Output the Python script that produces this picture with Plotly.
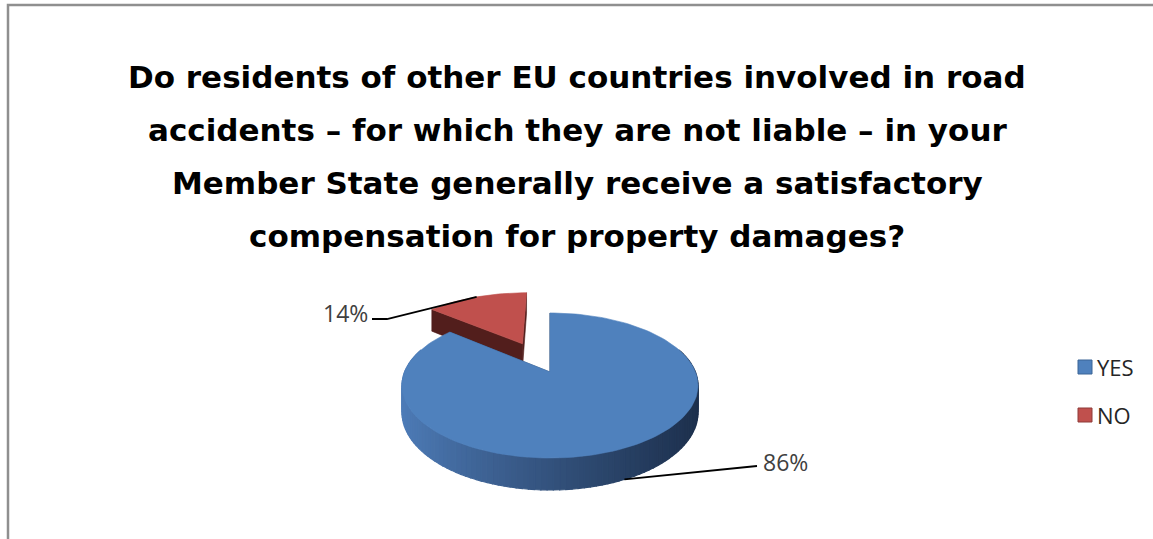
import numpy as np
import plotly.graph_objects as go

# Survey answers
categories = ["YES", "NO"]
shares = [86, 14]
slice_labels = ["86%", "14%"]
title_lines = [
    "Do residents of other EU countries involved in road",
    "accidents \u2013 for which they are not liable \u2013 in your",
    "Member State generally receive a satisfactory",
    "compensation for property damages?",
]

# Styling
top_colors = {"YES": "#4F81BD", "NO": "#C0504D"}
edge_colors = {"YES": "#3A6496", "NO": "#8E3A38"}
face_colors = {"YES": "#2B466A", "NO": "#521E1C"}
side_light = np.array([0x4E, 0x7C, 0xB8])
side_dark = np.array([0x1D, 0x30, 0x4D])
W, H = 1153, 539
FONT = "Open Sans"
TITLE_FONT = "DejaVu Sans"

# 3D pie projection (pixel space of the figure)
CX, CY = 550.0, 372.0   # projected centre of the pie
RX, RY = 145.4, 70.0    # disk radii on screen
PERSP = 0.186           # perspective strength (back is smaller)
DEPTH = 26.0            # thickness of the pie
EXPLODE = {"YES": 0.0, "NO": 0.48}


def project(X, Y, Z=0.0):
    w = 1.0 + PERSP * Y
    return CX + RX * X / w, CY - RY * Y / w - DEPTH * Z / w


def rgb(c):
    return "rgb(%d,%d,%d)" % tuple(int(round(v)) for v in c)


fig = go.Figure()

# angular extents of each slice, clockwise from 12 o'clock
total = float(sum(shares))
bounds = np.concatenate([[0.0], np.cumsum(shares) / total * 2 * np.pi])
slices = []
for i, cat in enumerate(categories):
    a0, a1 = bounds[i], bounds[i + 1]
    mid = 0.5 * (a0 + a1)
    e = EXPLODE[cat]
    ox, oy = e * np.sin(mid), e * np.cos(mid)
    slices.append(dict(cat=cat, a0=a0, a1=a1, mid=mid, ox=ox, oy=oy))


def add_poly(xs, ys, color, lw=0.6):
    fig.add_trace(go.Scatter(
        x=list(xs) + [xs[0]], y=list(ys) + [ys[0]], mode="lines", fill="toself",
        fillcolor=color, line=dict(color=color, width=lw),
        hoverinfo="skip", showlegend=False))


def draw_slice(s):
    cat, a0, a1, ox, oy = s["cat"], s["a0"], s["a1"], s["ox"], s["oy"]
    # radial cut faces
    for a in (a0, a1):
        px = [ox, ox + np.sin(a), ox + np.sin(a), ox]
        py = [oy, oy + np.cos(a), oy + np.cos(a), oy]
        pz = [0, 0, -1, -1]
        xs, ys = project(np.array(px), np.array(py), np.array(pz))
        add_poly(xs, ys, face_colors[cat])
    # outer curved side, shaded left-to-right
    n = max(8, int((a1 - a0) / (2 * np.pi) * 180))
    t = np.linspace(a0, a1, n + 1)
    xt, yt = project(ox + np.sin(t), oy + np.cos(t), 0.0)
    xb, yb = project(ox + np.sin(t), oy + np.cos(t), -1.0)
    xmin, xmax = CX - RX * 1.02, CX + RX * 1.02
    for j in range(n):
        if np.cos(0.5 * (t[j] + t[j + 1])) > 0.35:
            continue  # back part, hidden under the top
        f = np.clip((0.5 * (xt[j] + xt[j + 1]) - xmin) / (xmax - xmin), 0, 1) ** 0.85
        base = side_light + (side_dark - side_light) * f
        if cat == "NO":
            base = np.array([0x8A, 0x32, 0x30]) * (1 - 0.5 * f)
        add_poly([xt[j], xt[j + 1], xb[j + 1], xb[j]],
                 [yt[j], yt[j + 1], yb[j + 1], yb[j]], rgb(base), lw=1.2)
    # top surface
    px = np.concatenate([[ox], ox + np.sin(t)])
    py = np.concatenate([[oy], oy + np.cos(t)])
    xs, ys = project(px, py, 0.0)
    add_poly(xs, ys, top_colors[cat])


# back (exploded) slice first, then the large front slice
for s in sorted(slices, key=lambda s: -s["oy"]):
    draw_slice(s)

# leader lines and value labels
for s, label in zip(slices, slice_labels):
    ax_, ay_ = s["ox"] + np.sin(s["mid"]), s["oy"] + np.cos(s["mid"])
    if s["cat"] == "YES":
        x0, y0 = project(ax_, ay_, -1.0)
        pts = [(x0, y0), (757, 466)]
        tx, ty, anchor = 761, 462, "left"
    else:
        x0, y0 = project(ax_, ay_, 0.0)
        pts = [(x0, y0), (387, 319), (372, 319)]
        tx, ty, anchor = 370, 313, "right"
    fig.add_trace(go.Scatter(
        x=[p[0] for p in pts], y=[p[1] for p in pts], mode="lines",
        line=dict(color="#000000", width=1.8), hoverinfo="skip", showlegend=False))
    fig.add_annotation(x=tx, y=ty, text=label, showarrow=False, xanchor=anchor,
                       yanchor="middle", font=dict(family=FONT, size=23, color="#404040"))

# title
for k, line in enumerate(title_lines):
    fig.add_annotation(x=577, y=77 + k * 53, text="<b>%s</b>" % line, showarrow=False,
                       xanchor="center", yanchor="middle",
                       font=dict(family=TITLE_FONT, size=31, color="#000000"))

# legend
for k, cat in enumerate(categories):
    ly = 367 + 48 * k
    fig.add_trace(go.Scatter(
        x=[1085], y=[ly], mode="markers",
        marker=dict(symbol="square", size=14, color=top_colors[cat],
                    line=dict(color=edge_colors[cat], width=1)),
        hoverinfo="skip", showlegend=False))
    fig.add_annotation(x=1095, y=ly, text=cat, showarrow=False, xanchor="left",
                       yanchor="middle", font=dict(family=FONT, size=22, color="#262626"))

# chart border (left and top edges)
fig.add_shape(type="path", path="M 8 539 L 8 5 L 1153 5", xref="x", yref="y",
              line=dict(color="#8F8F8F", width=2.5))

fig.update_layout(
    width=W, height=H, margin=dict(l=0, r=0, t=0, b=0),
    paper_bgcolor="white", plot_bgcolor="white",
    xaxis=dict(range=[0, W], visible=False, fixedrange=True),
    yaxis=dict(range=[H, 0], visible=False, fixedrange=True),
)

fig.write_html("out.html")
